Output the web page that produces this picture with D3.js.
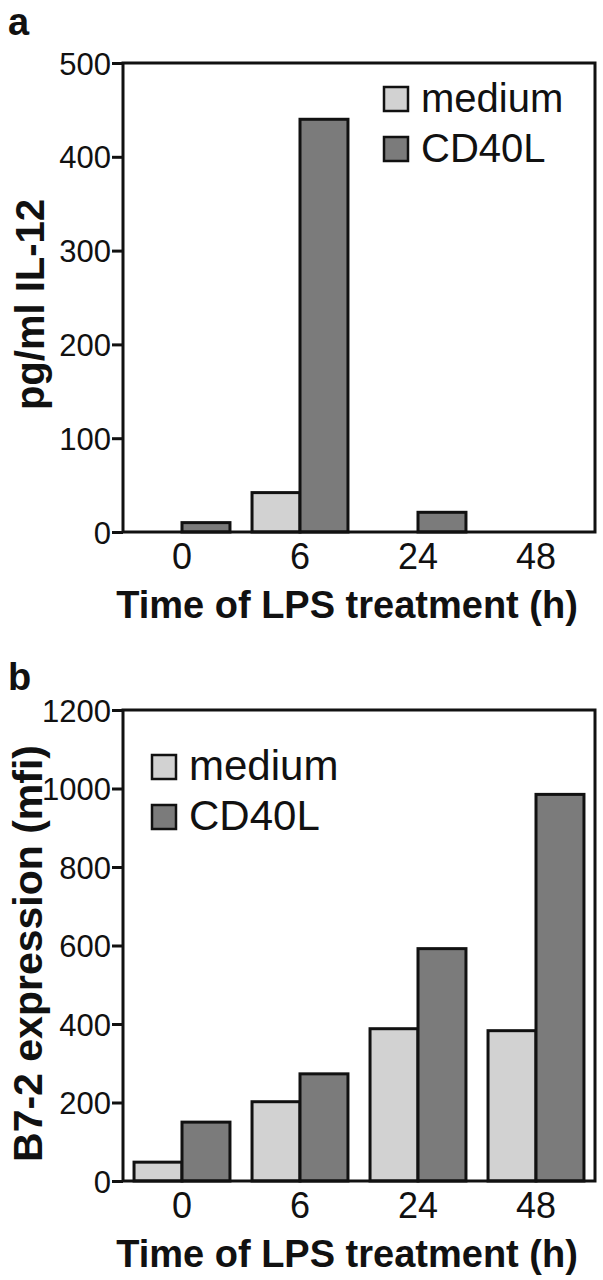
<!DOCTYPE html>
<html><head><meta charset="utf-8">
<script src="https://cdn.jsdelivr.net/npm/d3@7"></script>
<style>
body{margin:0;background:#fff;}
svg{display:block;font-family:"Liberation Sans",Arial,Helvetica,sans-serif;}
</style></head>
<body><svg id="c" width="603" height="1280"></svg>
<script>
const categories = ["0","6","24","48"];
const seriesNames = ["medium","CD40L"];
const il12Medium = [0, 42, 0, 0];
const il12CD40L = [10, 440, 21, 0];
const b72Medium = [48, 202, 388, 383];
const b72CD40L = [150, 273, 592, 985];
const il12Ticks = [0,100,200,300,400,500];
const b72Ticks = [0,200,400,600,800,1000,1200];
const colors = {medium:"#d2d2d2", CD40L:"#7b7b7b"};

const svg = d3.select("#c");

function panel(opt){
  const g = svg.append("g");
  const x0 = 123, x1 = 595;
  const x = d3.scaleBand().domain(categories).range([x0,x1]).padding(0);
  const xs = d3.scaleBand().domain(seriesNames).range([0,x.bandwidth()]).paddingInner(0).paddingOuter(0.23);
  const y = d3.scaleLinear().domain([0, opt.max]).range([opt.bottom, opt.top]);
  const data = categories.map((c,i)=>({c, medium:opt.med[i], CD40L:opt.cd[i]}));

  // bars
  data.forEach(d=>{
    seriesNames.forEach(s=>{
      if(d[s] <= 0) return;
      g.append("rect")
        .attr("x", x(d.c)+xs(s))
        .attr("y", y(d[s]))
        .attr("width", xs.bandwidth())
        .attr("height", y(0)-y(d[s]))
        .attr("fill", colors[s])
        .attr("stroke","#111").attr("stroke-width",3);
    });
  });

  // frame
  g.append("rect").attr("x",x0).attr("y",opt.top).attr("width",x1-x0).attr("height",opt.bottom-opt.top)
    .attr("fill","none").attr("stroke","#111").attr("stroke-width",3);

  // y axis
  const ya = g.append("g").attr("transform",`translate(${x0},0)`)
    .call(d3.axisLeft(y).tickValues(opt.ticks).tickSize(11).tickPadding(1).tickFormat(d3.format("d")));
  ya.select(".domain").remove();
  ya.selectAll(".tick line").attr("stroke","#111").attr("stroke-width",3);
  ya.selectAll(".tick text").attr("font-size",31).attr("fill","#111").attr("font-family","Liberation Sans, Arial, sans-serif").attr("dy","0.36em");

  // x axis labels
  const xa = g.append("g").attr("transform",`translate(0,${opt.bottom})`)
    .call(d3.axisBottom(x).tickSize(0).tickPadding(8));
  xa.select(".domain").remove();
  xa.selectAll(".tick text").attr("font-size",36).attr("fill","#111").attr("font-family","Liberation Sans, Arial, sans-serif").attr("dy","0.8em");

  // x title
  g.append("text").attr("x",(x0+x1)/2-12).attr("y",opt.bottom+86).attr("text-anchor","middle")
    .attr("font-size",38).attr("font-weight","bold").attr("fill","#111").text("Time of LPS treatment (h)");
  // y title
  g.append("text").attr("transform",`translate(${opt.ytx},${(opt.top+opt.bottom)/2 + opt.ydy}) rotate(-90)`)
    .attr("text-anchor","middle").attr("font-size",opt.yfs).attr("font-weight","bold").attr("fill","#111").text(opt.ytitle);
  // panel letter
  g.append("text").attr("x",8).attr("y",opt.letterY).attr("font-size",38).attr("font-weight","bold").attr("fill","#111").text(opt.letter);

  // legend
  seriesNames.forEach((s,i)=>{
    const ly = opt.legY + i*50;
    g.append("rect").attr("x",opt.legX).attr("y",ly-25).attr("width",24).attr("height",24)
      .attr("fill",colors[s]).attr("stroke","#111").attr("stroke-width",2.5);
    g.append("text").attr("x",opt.legX+37).attr("y",ly).attr("font-size",opt.legFs).attr("fill","#111").text(s);
  });
}

panel({max:500, top:63, bottom:532, med:il12Medium, cd:il12CD40L, ticks:il12Ticks,
  ytitle:"pg/ml IL-12", ytx:44, ydy:7, yfs:40, letter:"a", letterY:35, legX:384, legY:112, legFs:40});
panel({max:1200, top:710, bottom:1181, med:b72Medium, cd:b72CD40L, ticks:b72Ticks,
  ytitle:"B7-2 expression (mfi)", ytx:42, ydy:8, yfs:41, letter:"b", letterY:690, legX:152, legY:780, legFs:42});
</script></body></html>
